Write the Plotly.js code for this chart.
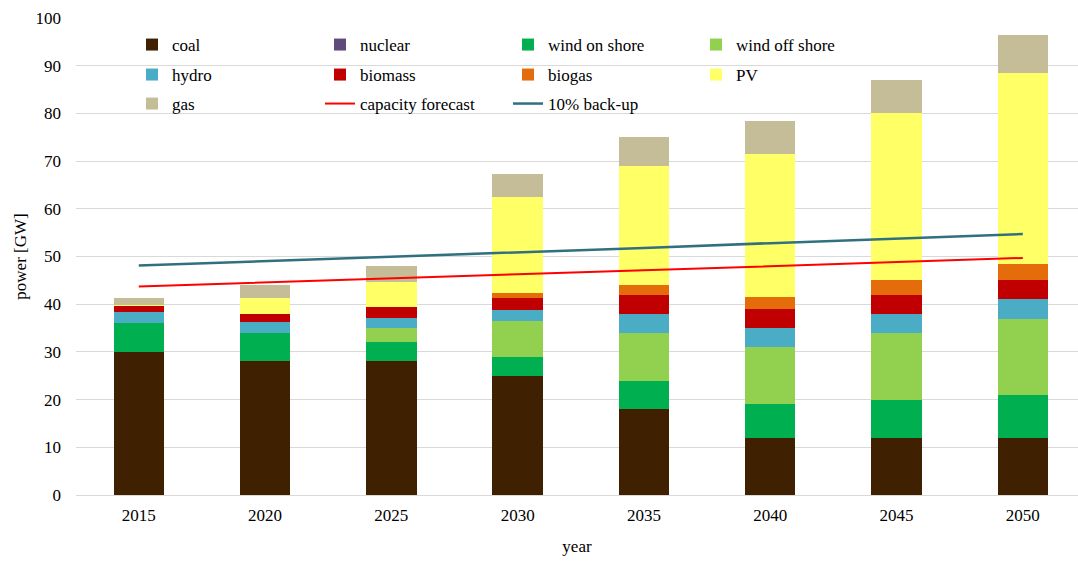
<!DOCTYPE html>
<html>
<head>
<meta charset="utf-8">
<script src="https://cdn.plot.ly/plotly-3.0.1.min.js"></script>
<style>html,body{margin:0;padding:0;background:#fff;}#chart{width:1078px;height:562px;}</style>
</head>
<body>
<div id="chart"></div>
<script>
const years = ['2015','2020','2025','2030','2035','2040','2045','2050'];
const coal        = [30, 28, 28, 25, 18, 12, 12, 12];
const nuclear     = [0, 0, 0, 0, 0, 0, 0, 0];
const windOnShore = [6, 6, 4, 4, 6, 7, 8, 9];
const windOffShore= [0, 0, 3.1, 7.5, 10, 12, 14, 16];
const hydro       = [2.4, 2.3, 2.1, 2.3, 4, 4, 4, 4];
const biomass     = [1.2, 1.6, 2.2, 2.6, 4, 4, 4, 4];
const biogas      = [0, 0, 0, 1, 2, 2.5, 3, 3.5];
const pv          = [0.3, 3.5, 5.2, 20, 25, 30, 35, 40];
const gas         = [1.5, 2.7, 3.5, 5, 6, 7, 7, 8];
const capacityForecast = [43.7, 44.6, 45.4, 46.3, 47.1, 48.0, 48.9, 49.7];
const backup10 = [48.1, 49.0, 49.9, 50.9, 51.8, 52.8, 53.7, 54.7];

const font = {family: 'Liberation Serif, Times New Roman, serif', size: 17, color: '#000'};

function bar(name, y, color, legend) {
  return {type: 'bar', name: name, x: years, y: y, marker: {color: color, line: {width: 0}}, legend: legend, hoverinfo: 'name+y'};
}
const traces = [
  bar('coal', coal, '#3F2000', 'legend'),
  bar('nuclear', nuclear, '#604A7B', 'legend'),
  bar('wind on shore', windOnShore, '#00B050', 'legend'),
  bar('wind off shore', windOffShore, '#92D050', 'legend'),
  bar('hydro', hydro, '#4BACC6', 'legend2'),
  bar('biomass', biomass, '#C00000', 'legend2'),
  bar('biogas', biogas, '#E46C0A', 'legend2'),
  bar('PV', pv, '#FFFF66', 'legend2'),
  bar('gas', gas, '#C4BD97', 'legend3'),
  {type: 'scatter', mode: 'lines', name: 'capacity forecast', x: years, y: capacityForecast, line: {color: '#FF0000', width: 2}, legend: 'legend3'},
  {type: 'scatter', mode: 'lines', name: '10% back-up', x: years, y: backup10, line: {color: '#31707F', width: 2.5}, legend: 'legend3'}
];

const legBase = {orientation: 'h', xanchor: 'left', yanchor: 'middle', x: 0.0559, entrywidth: 143, entrywidthmode: 'pixels', font: font, bgcolor: 'rgba(0,0,0,0)', traceorder: 'normal', itemwidth: 30};

const layout = {
  width: 1078, height: 562,
  margin: {l: 76, r: 0, t: 18, b: 67},
  paper_bgcolor: '#fff', plot_bgcolor: '#fff',
  font: font,
  barmode: 'stack',
  bargap: 0.6,
  showlegend: true,
  legend: Object.assign({}, legBase, {y: 1 - (45 - 18) / 477}),
  legend2: Object.assign({}, legBase, {y: 1 - (75 - 18) / 477}),
  legend3: Object.assign({}, legBase, {y: 1 - (104 - 18) / 477}),
  xaxis: {
    type: 'category',
    range: [-0.497, 7.437],
    showgrid: false, zeroline: false, showline: false, ticks: '',
    ticklabelstandoff: 8,
    tickfont: font,
    title: {text: 'year', font: font, standoff: 16}
  },
  yaxis: {
    range: [0, 100],
    dtick: 10,
    showgrid: true, gridcolor: '#D9D9D9', gridwidth: 1,
    zeroline: true, zerolinecolor: '#D9D9D9', zerolinewidth: 1,
    showline: false, ticks: '',
    ticklabelstandoff: 14,
    tickfont: font,
    title: {text: 'power [GW]', font: font, standoff: 4}
  }
};

Plotly.newPlot('chart', traces, layout, {displayModeBar: false, staticPlot: true});
</script>
</body>
</html>
